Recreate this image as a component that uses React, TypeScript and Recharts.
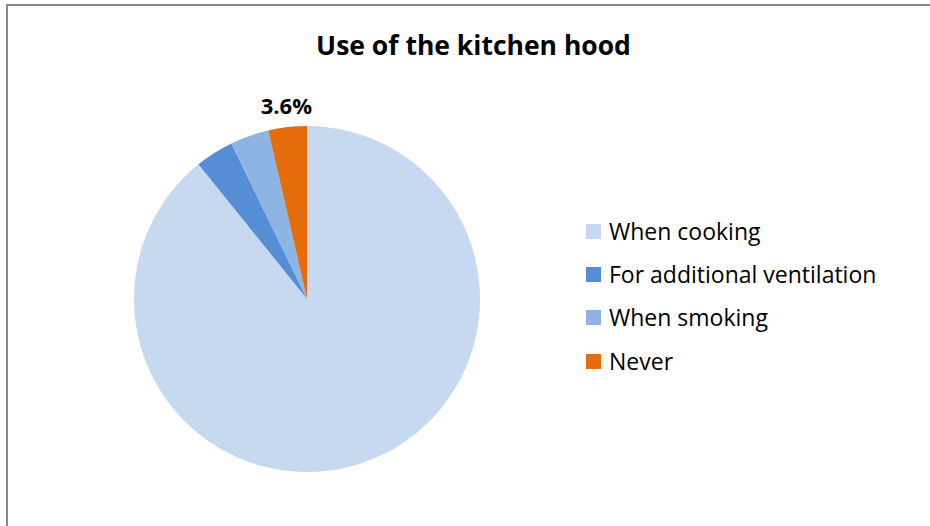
import React from "react";
import { PieChart, Pie, Cell, Legend } from "recharts";

const categories = ["When cooking", "For additional ventilation", "When smoking", "Never"];
const values = [89.2, 3.6, 3.6, 3.6];
const colors = ["#C6D9F1", "#558ED5", "#8EB4E3", "#E46C0A"];
const labelledCategory = "Never";

const data = categories.map((name, i) => ({ name, value: values[i] }));

const FONT = "'Open Sans', 'Noto Sans', sans-serif";
const RAD = Math.PI / 180;

const renderLabel = (props: any) => {
  const { cx, cy, midAngle, outerRadius, payload, percent } = props;
  if (payload.name !== labelledCategory) return null;
  const r = outerRadius + 22;
  const x = cx + r * Math.cos(-midAngle * RAD);
  const y = cy + r * Math.sin(-midAngle * RAD);
  return (
    <text x={x + 27} y={y} textAnchor="end" dominantBaseline="central" fontFamily={FONT} fontWeight={700} fontSize={22} fill="#000">
      {(percent * 100).toFixed(1)}%
    </text>
  );
};

const renderLegend = () => (
  <div style={{ fontFamily: FONT }}>
    {data.map((d, i) => (
      <div key={d.name} style={{ display: "flex", alignItems: "center", height: 43.3 }}>
        <div style={{ width: 15, height: 15, background: colors[i], marginRight: 8, marginTop: 1 }} />
        <span style={{ fontSize: 23, color: "#000" }}>{d.name}</span>
      </div>
    ))}
  </div>
);

export default function App() {
  return (
    <div style={{ position: "absolute", left: 0, top: 0, width: 930, height: 526, overflow: "hidden", background: "#fff" }}>
      <div style={{ position: "absolute", left: 6, top: 4, width: 1000, height: 600, border: "2px solid #888" }} />
      <div style={{ position: "absolute", left: 0, top: 27, width: 947, textAlign: "center", fontFamily: FONT, fontWeight: 700, fontSize: 26.5, color: "#000" }}>
        Use of the kitchen hood
      </div>
      <div style={{ position: "absolute", left: 0, top: 0 }}>
        <PieChart width={930} height={526} margin={{ top: 0, right: 0, bottom: 0, left: 0 }}>
          <Pie
            data={data}
            dataKey="value"
            nameKey="name"
            cx={307}
            cy={299}
            outerRadius={173}
            startAngle={90}
            endAngle={-270}
            stroke="none"
            label={renderLabel}
            labelLine={false}
            isAnimationActive={false}
          >
            {data.map((d, i) => (
              <Cell key={d.name} fill={colors[i]} />
            ))}
          </Pie>
          <Legend content={renderLegend} layout="vertical" align="right" verticalAlign="top" wrapperStyle={{ left: 586, top: 209, width: 330 }} />
        </PieChart>
      </div>
    </div>
  );
}
